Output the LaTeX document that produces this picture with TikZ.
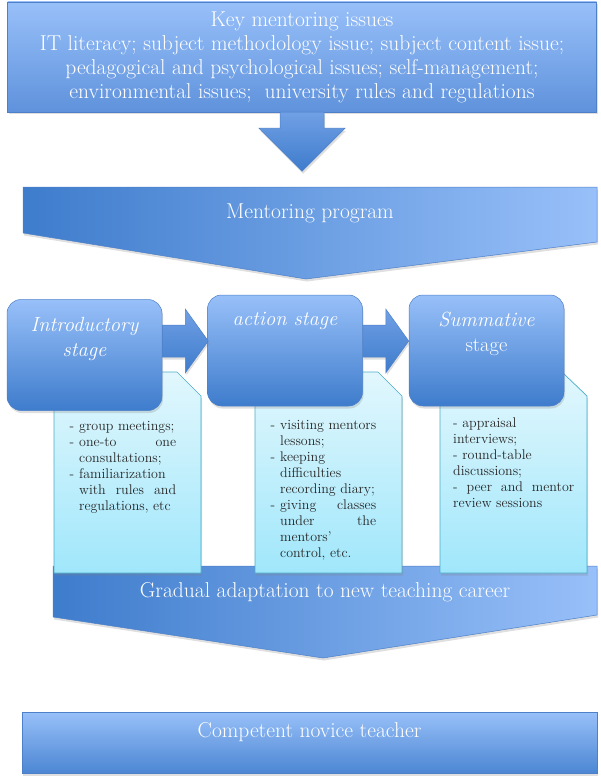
\documentclass[tikz,border=0pt]{standalone}
\usepackage{fontspec}
\usetikzlibrary{positioning,shadows}

\definecolor{paleblue}{HTML}{98C0F9}
\definecolor{midblue}{HTML}{5F92DC}
\definecolor{deepblue}{HTML}{3E7CCC}
\definecolor{edgeblue}{HTML}{4D80C9}
\definecolor{notetop}{HTML}{E2F7FD}
\definecolor{notebottom}{HTML}{A0E7FB}
\definecolor{noteedge}{HTML}{4BACC6}

\newenvironment{dashlist}{%
	\begin{list}{-}{\setlength{\leftmargin}{11pt}\setlength{\labelwidth}{6pt}%
		\setlength{\labelsep}{5pt}\setlength{\itemsep}{0pt}\setlength{\parsep}{0pt}%
		\setlength{\topsep}{0pt}\setlength{\partopsep}{0pt}}}%
	{\end{list}}

\begin{document}
\begin{tikzpicture}[x=1pt, y=-1pt,
		shadowed/.style={drop shadow={opacity=0.25, shadow xshift=1pt, shadow yshift=-2.5pt}},
		bluebox/.style={shadowed, draw=edgeblue, line width=0.5pt, top color=paleblue, bottom color=midblue, inner sep=0pt},
		stagebox/.style={bluebox, bottom color=deepblue, rounded corners=14pt, minimum width=155pt, minimum height=111pt},
		chevron/.style={shadowed, draw=edgeblue, line width=0.5pt, left color=deepblue, right color=paleblue},
		blockarrow/.style={shadowed, draw=edgeblue, line width=0.5pt, top color=midblue!70!paleblue, bottom color=deepblue},
		notebox/.style={shadowed, draw=noteedge, line width=0.7pt, top color=notetop, bottom color=notebottom},
		whitetext/.style={text=white, font=\fontsize{21.5}{24}\selectfont},
		stagetext/.style={text=white, font=\fontsize{20.5}{25}\selectfont\itshape, align=center, inner sep=0pt},
		notetext/.style={text=black!85, font=\fontsize{14}{16}\selectfont, align=justify, inner sep=0pt, anchor=north west}]

	\useasboundingbox (0,0) rectangle (600,781);

	\node [bluebox, whitetext, align=center, minimum width=589pt, minimum height=110pt] (issues) at (302,57)
		{Key mentoring issues\\IT literacy; subject methodology issue; subject content issue;\\pedagogical and psychological issues; self-management;\\environmental issues; \ university rules and regulations};
	\path [blockarrow, shift={(issues.south)}] (-22,0) -- (22,0) -- (22,16) -- (43,16) -- (0,59) -- (-43,16) -- (-22,16) -- cycle;

	\path [chevron] (23,187) -- (597,187) -- (597,242) -- (306,279) -- (23,233) -- cycle;
	\node [whitetext] (program) at (310,213) {Mentoring program};

	\path [chevron] (53,566) -- (597,566) -- (597,615) -- (323,658) -- (53,617) -- cycle;
	\node [whitetext] (adaptation) at (325,592) {Gradual adaptation to new teaching career};

	% notes under the stages
	\path [notebox] (54,372) -- (177,372) -- (201,396) -- (201,573) -- (54,573) -- cycle;
	\path [notebox] (255,372) -- (378,372) -- (402,396) -- (402,573) -- (255,573) -- cycle;
	\path [notebox] (440,373) -- (563,373) -- (587,396) -- (587,573) -- (440,573) -- cycle;

	\node [stagebox] (intro) at (84.5,355) {};
	\node [stagebox] (action) at (285,350.5) {};
	\node [stagebox] (summative) at (486.5,350.5) {};

	\path [blockarrow, shift={(intro.east |- 0,341)}] (0,-16) -- (23,-16) -- (23,-32) -- (46,0) -- (23,32) -- (23,16) -- (0,16) -- cycle;
	\path [blockarrow, shift={(action.east |- 0,341)}] (0,-16) -- (23,-16) -- (23,-32) -- (46,0) -- (23,32) -- (23,16) -- (0,16) -- cycle;

	\node [stagetext, below=18pt of intro.north] (introtext) {Introductory\\stage};
	\node [stagetext, below=17pt of action.north] (actiontext) {action stage};
	\node [stagetext, below=17pt of summative.north] (summativetext) {Summative\\\upshape stage};

	\node [notetext, text width=108pt] (introlist) at (68,414) {\begin{dashlist}
		\item group meetings;
		\item one-to one\linebreak consultations;
		\item familiarization\newline with rules and\linebreak regulations, etc
	\end{dashlist}};
	\node [notetext, text width=107pt] (actionlist) at (269,413) {\begin{dashlist}
		\item visiting mentors\linebreak lessons;
		\item keeping\newline difficulties\newline recording diary;
		\item giving classes\linebreak under the\linebreak mentors'\newline control, etc.
	\end{dashlist}};
	\node [notetext, text width=121pt] (summativelist) at (453,418)
		{- appraisal\newline interviews;\\- round-table\newline discussions;\\- peer and mentor\linebreak review sessions};

	\node [bluebox, bottom color=deepblue!85!paleblue, minimum width=575pt, minimum height=61pt] (novice) at (309.5,742.5) {};
	\node [whitetext] (novicetext) at ([yshift=10pt]novice.center) {Competent novice teacher};
\end{tikzpicture}
\end{document}
